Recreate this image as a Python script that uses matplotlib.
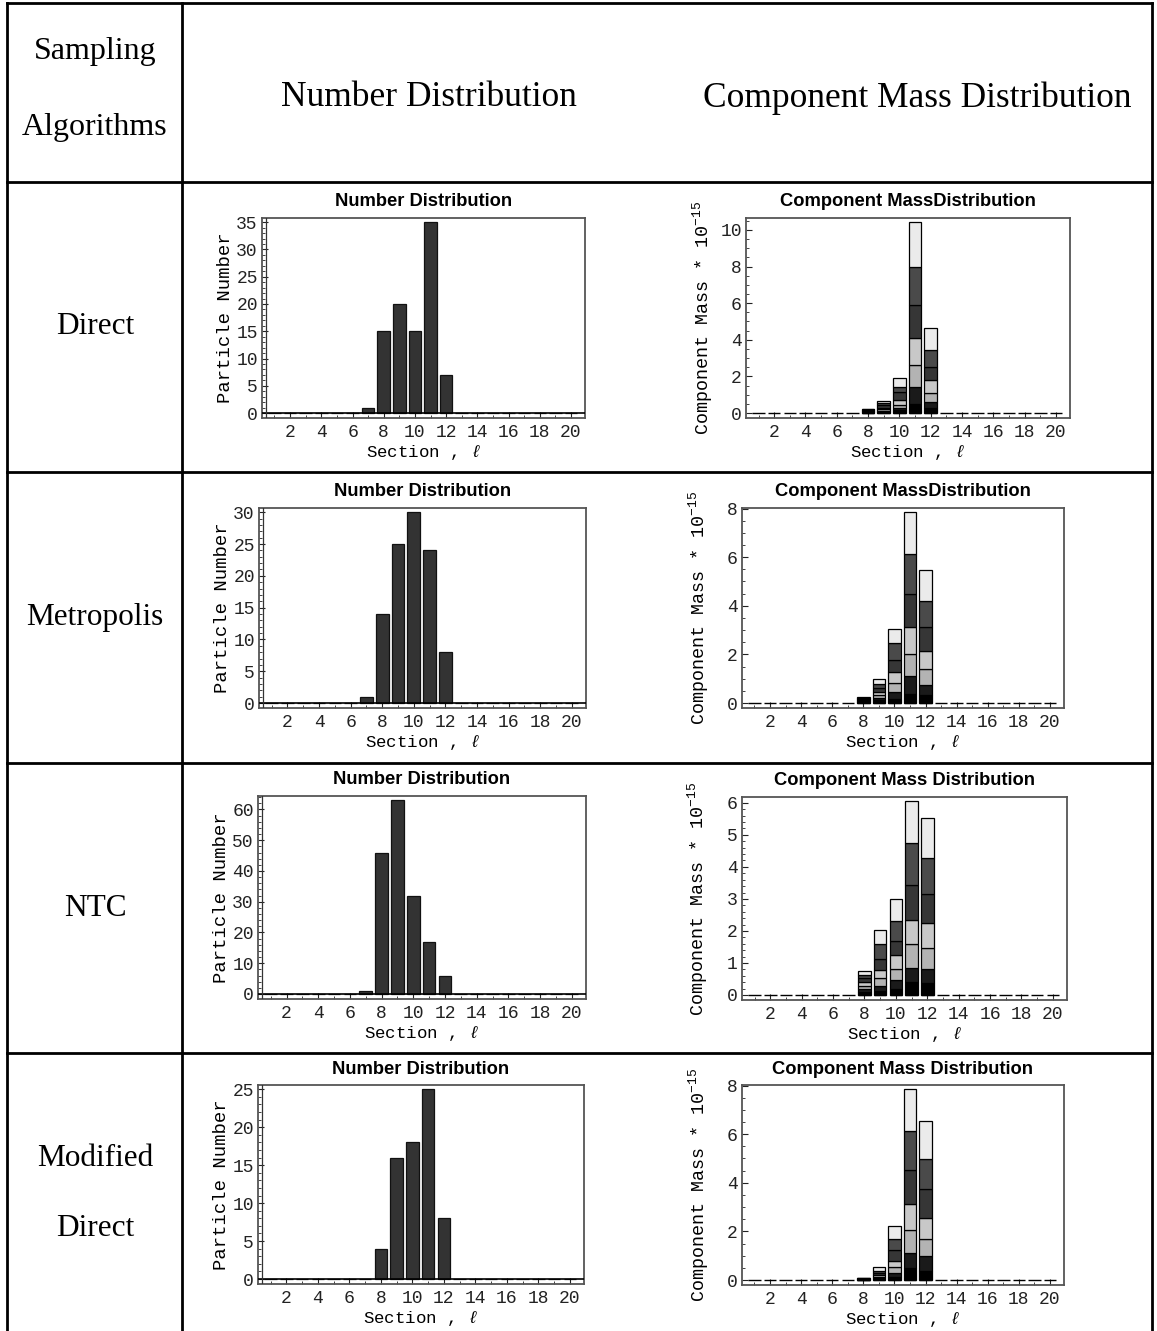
import matplotlib.pyplot as plt
import numpy as np
from matplotlib.ticker import MultipleLocator

plt.rcParams['mathtext.fontset'] = 'custom'
plt.rcParams['mathtext.rm'] = 'Liberation Mono'
plt.rcParams['mathtext.it'] = 'Liberation Mono:italic'

W, H = 1157, 1331

sections = np.arange(1, 21)
mass_sections = np.array([8, 9, 10, 11, 12])

algorithms = ["Direct", "Metropolis", "NTC", "Modified", "Direct"]

# particle counts per section 1..20
number_direct = [0, 0, 0, 0, 0, 0, 1, 15, 20, 15, 35, 7, 0, 0, 0, 0, 0, 0, 0, 0]
number_metropolis = [0, 0, 0, 0, 0, 0, 1, 14, 25, 30, 24, 8, 0, 0, 0, 0, 0, 0, 0, 0]
number_ntc = [0, 0, 0, 0, 0, 0, 1, 46, 63, 32, 17, 6, 0, 0, 0, 0, 0, 0, 0, 0]
number_modified = [0, 0, 0, 0, 0, 0, 0, 4, 16, 18, 25, 8, 0, 0, 0, 0, 0, 0, 0, 0]

# component mass (x 1e-15) in sections 8..12, one row per component, bottom to top
mass_direct = [
    [0.02, 0.05, 0.14, 0.51, 0.26],
    [0.03, 0.07, 0.13, 0.91, 0.34],
    [0.03, 0.08, 0.18, 1.18, 0.51],
    [0.04, 0.10, 0.28, 1.49, 0.69],
    [0.04, 0.12, 0.40, 1.81, 0.73],
    [0.04, 0.13, 0.29, 2.10, 0.89],
    [0.04, 0.10, 0.51, 2.42, 1.20],
]
mass_metropolis = [
    [0.03, 0.11, 0.18, 0.38, 0.32],
    [0.03, 0.11, 0.27, 0.74, 0.43],
    [0.04, 0.11, 0.37, 0.90, 0.65],
    [0.03, 0.14, 0.46, 1.11, 0.75],
    [0.04, 0.15, 0.50, 1.36, 0.98],
    [0.04, 0.18, 0.69, 1.64, 1.05],
    [0.04, 0.19, 0.58, 1.72, 1.28],
]
mass_ntc = [
    [0.10, 0.12, 0.19, 0.42, 0.36],
    [0.09, 0.16, 0.28, 0.43, 0.44],
    [0.10, 0.24, 0.33, 0.74, 0.66],
    [0.11, 0.26, 0.45, 0.75, 0.80],
    [0.12, 0.35, 0.44, 1.10, 0.90],
    [0.10, 0.46, 0.62, 1.30, 1.13],
    [0.13, 0.44, 0.69, 1.31, 1.23],
]
mass_modified = [
    [0.01, 0.03, 0.14, 0.48, 0.39],
    [0.01, 0.05, 0.15, 0.64, 0.58],
    [0.01, 0.06, 0.23, 0.92, 0.70],
    [0.02, 0.07, 0.28, 1.08, 0.89],
    [0.02, 0.08, 0.44, 1.41, 1.17],
    [0.015, 0.10, 0.43, 1.62, 1.26],
    [0.015, 0.13, 0.54, 1.70, 1.54],
]

number_data = [number_direct, number_metropolis, number_ntc, number_modified]
mass_data = [mass_direct, mass_metropolis, mass_ntc, mass_modified]
mass_titles = ["Component MassDistribution", "Component MassDistribution",
               "Component Mass Distribution", "Component Mass Distribution"]
number_steps = [(5, 1), (5, 1), (10, 2), (5, 1)]
mass_steps = [(2, 0.5), (2, 0.5), (1, 0.2), (2, 0.5)]

layer_colors = ['#000000', '#1a1a1a', '#b3b3b3', '#c8c8c8', '#363636', '#4a4a4a', '#ebebeb']

# pixel boxes (left, top, right, bottom) of the plot frames
number_boxes = [(262, 218, 585, 418), (259, 508, 586, 708), (258, 796, 586, 999), (258, 1085, 584, 1284)]
mass_boxes = [(746, 218, 1070, 418), (742, 508, 1064, 708), (742, 797, 1067, 1000), (742, 1085, 1064, 1285)]

MONO = 'Liberation Mono'

fig = plt.figure(figsize=(W / 100, H / 100), dpi=100)

# table grid and text
grid = fig.add_axes([0, 0, 1, 1])
grid.set_xlim(0, W)
grid.set_ylim(H, 0)
grid.axis('off')
for y in [3, 182, 472, 763, 1053]:
    grid.plot([7, 1152], [y, y], color='black', lw=2.0, solid_capstyle='projecting')
for x in [7, 182, 1152]:
    grid.plot([x, x], [3, H], color='black', lw=2.0)

serif = dict(family='Liberation Serif', ha='center', va='center')
grid.text(95, 51, "Sampling", fontsize=23, **serif)
grid.text(95, 128, "Algorithms", fontsize=23, **serif)
grid.text(429, 98, "Number Distribution", fontsize=25.5, **serif)
grid.text(917, 98, "Component Mass Distribution", fontsize=25.5, **serif)
for name, yc in zip(algorithms, [327, 617, 908, 1158, 1228]):
    grid.text(95, yc, name, fontsize=22.5, **serif)


def frame_axes(box):
    l, t, r, b = box
    return fig.add_axes([l / W, 1 - b / H, (r - l) / W, (b - t) / H])


def style(ax, major, minor, top):
    ax.set_xlim(0.2, 20.9)
    ax.set_ylim(-0.026 * top, 1.022 * top)
    ax.xaxis.set_major_locator(MultipleLocator(2))
    ax.xaxis.set_minor_locator(MultipleLocator(1))
    ax.yaxis.set_major_locator(MultipleLocator(major))
    ax.yaxis.set_minor_locator(MultipleLocator(minor))
    ax.tick_params(which='both', direction='in', top=False, right=False, colors='#222222')
    ax.tick_params(which='major', length=4, width=0.8, labelsize=13, pad=3)
    ax.tick_params(which='minor', length=2, width=0.6)
    ax.tick_params(axis='x', which='major', pad=4)
    for lab in ax.get_xticklabels() + ax.get_yticklabels():
        lab.set_family(MONO)
    for s in ax.spines.values():
        s.set_color('#555555')
        s.set_linewidth(1.3)
    ax.text(0.5, -0.125, r"Section , $\ell$", transform=ax.transAxes, ha='center', va='top',
            family=MONO, fontsize=12.5)


for i in range(4):
    # number distribution
    ax = frame_axes(number_boxes[i])
    counts = np.array(number_data[i])
    ax.bar(sections, counts, width=0.8, color='#333333', edgecolor='#111111', linewidth=0.9, zorder=3)
    ax.axhline(0, color='black', lw=1.2, zorder=4)
    ax.axvline(0.45, color='#333333', lw=0.9, zorder=4)
    style(ax, number_steps[i][0], number_steps[i][1], counts.max())
    ax.text(0.5, 1.08, "Number Distribution", transform=ax.transAxes, ha='center', va='center',
            family='Liberation Sans', fontweight='bold', fontsize=13.2)
    ax.text(-0.112, 0.5, "Particle Number", transform=ax.transAxes, rotation=90,
            ha='center', va='center', family=MONO, fontsize=13.6)

    # component mass distribution, stacked by component
    ax = frame_axes(mass_boxes[i])
    layers = np.array(mass_data[i])
    ax.bar(sections, np.zeros(len(sections)), width=0.8, edgecolor='black', linewidth=1.0, zorder=3)
    bottom = np.zeros(len(mass_sections))
    for layer, col in zip(layers, layer_colors):
        ax.bar(mass_sections, layer, bottom=bottom, width=0.8, color=col,
               edgecolor='black', linewidth=0.9, zorder=3)
        bottom = bottom + layer
    style(ax, mass_steps[i][0], mass_steps[i][1], bottom.max())
    ax.text(0.5, 1.08, mass_titles[i], transform=ax.transAxes, ha='center', va='center',
            family='Liberation Sans', fontweight='bold', fontsize=13.2)
    ax.text(-0.135, 0.5, r"Component Mass * $10^{-15}$", transform=ax.transAxes, rotation=90,
            ha='center', va='center', family=MONO, fontsize=13.2)

fig.savefig('out.png', dpi=100)
